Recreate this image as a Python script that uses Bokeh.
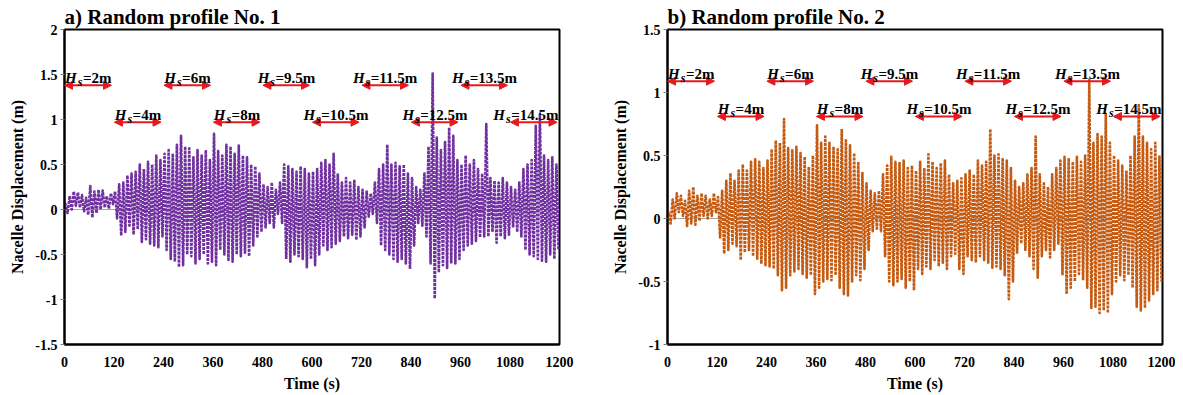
import numpy as np
from bokeh.plotting import figure
from bokeh.layouts import row
from bokeh.models import Label, Arrow, NormalHead, Span, FixedTicker, Range1d
from bokeh.embed import file_html
from bokeh.resources import INLINE

# ---------------- data ----------------
# window start times (s); each window = 10 s, peak (upper) and trough (lower) read per window
window_start = list(range(0, 1200, 10))

upper_a = [0.06, 0.15, 0.20, 0.19, 0.16, 0.13, 0.26, 0.20, 0.22, 0.21, 0.15, 0.18,
           0.20, 0.28, 0.30, 0.38, 0.40, 0.42, 0.50, 0.45, 0.53, 0.50, 0.60, 0.55,
           0.62, 0.66, 0.62, 0.72, 0.82, 0.70, 0.68, 0.58, 0.66, 0.60, 0.66, 0.55,
           0.84, 0.65, 0.60, 0.72, 0.70, 0.62, 0.71, 0.60, 0.58, 0.50, 0.48, 0.40,
           0.28, 0.25, 0.30, 0.22, 0.30, 0.50, 0.48, 0.45, 0.42, 0.48, 0.45, 0.40,
           0.42, 0.45, 0.52, 0.55, 0.50, 0.62, 0.40, 0.30, 0.35, 0.30, 0.32, 0.25,
           0.22, 0.20, 0.18, 0.30, 0.45, 0.50, 0.72, 0.50, 0.52, 0.48, 0.50, 0.40,
           0.35, 0.25, 0.22, 0.40, 0.70, 1.51, 0.80, 0.66, 0.75, 0.91, 0.82, 0.55,
           0.50, 0.60, 0.50, 0.55, 0.45, 0.40, 0.95, 0.35, 0.32, 0.30, 0.35, 0.30,
           0.25, 0.22, 0.30, 0.45, 0.50, 0.55, 0.93, 1.06, 0.60, 0.55, 0.58, 0.50]
lower_a = [-0.04, 0.00, 0.04, 0.02, -0.02, -0.06, -0.09, -0.04, 0.00, 0.02, 0.01, 0.06,
           -0.10, -0.29, -0.25, -0.18, -0.28, -0.22, -0.36, -0.33, -0.38, -0.40, -0.42, -0.30,
           -0.45, -0.55, -0.58, -0.64, -0.62, -0.50, -0.52, -0.60, -0.55, -0.50, -0.60, -0.58,
           -0.62, -0.45, -0.50, -0.56, -0.58, -0.50, -0.52, -0.48, -0.52, -0.40, -0.30, -0.25,
           -0.20, -0.15, -0.20, -0.05, -0.15, -0.55, -0.58, -0.50, -0.52, -0.55, -0.64, -0.55,
           -0.62, -0.50, -0.40, -0.45, -0.42, -0.38, -0.35, -0.30, -0.32, -0.28, -0.34, -0.30,
           -0.20, -0.08, -0.05, -0.15, -0.40, -0.45, -0.50, -0.55, -0.58, -0.55, -0.60, -0.66,
           -0.40, -0.15, -0.18, -0.30, -0.60, -0.99, -0.70, -0.62, -0.65, -0.60, -0.60, -0.55,
           -0.45, -0.40, -0.38, -0.35, -0.31, -0.30, -0.30, -0.25, -0.37, -0.30, -0.32, -0.28,
           -0.20, -0.25, -0.30, -0.45, -0.50, -0.52, -0.55, -0.57, -0.58, -0.50, -0.55, -0.45]

upper_b = [0.05, 0.15, 0.20, 0.18, 0.14, 0.22, 0.25, 0.18, 0.20, 0.18, 0.15, 0.20,
           0.17, 0.22, 0.30, 0.36, 0.30, 0.38, 0.43, 0.38, 0.45, 0.47, 0.45, 0.40,
           0.46, 0.55, 0.62, 0.60, 0.79, 0.56, 0.55, 0.57, 0.52, 0.49, 0.41, 0.50,
           0.74, 0.60, 0.65, 0.60, 0.57, 0.55, 0.71, 0.62, 0.58, 0.52, 0.45, 0.36,
           0.28, 0.22, 0.20, 0.22, 0.35, 0.42, 0.49, 0.45, 0.44, 0.46, 0.40, 0.42,
           0.38, 0.45, 0.40, 0.51, 0.45, 0.40, 0.44, 0.46, 0.35, 0.28, 0.30, 0.32,
           0.35, 0.38, 0.35, 0.46, 0.42, 0.45, 0.71, 0.50, 0.51, 0.48, 0.46, 0.40,
           0.30, 0.25, 0.28, 0.35, 0.40, 0.65, 0.35, 0.28, 0.25, 0.35, 0.40, 0.46,
           0.49, 0.48, 0.45, 0.49, 0.45, 0.50, 1.10, 0.60, 0.67, 0.65, 0.83, 0.60,
           0.50, 0.46, 0.42, 0.38, 0.50, 0.65, 0.91, 0.65, 0.60, 0.55, 0.60, 0.50]
lower_b = [-0.04, 0.00, 0.05, 0.02, -0.06, -0.04, -0.05, -0.02, 0.02, 0.00, 0.02, 0.05,
           -0.15, -0.28, -0.25, -0.20, -0.22, -0.33, -0.27, -0.25, -0.30, -0.32, -0.36, -0.37,
           -0.38, -0.40, -0.45, -0.57, -0.55, -0.45, -0.42, -0.40, -0.44, -0.47, -0.45, -0.60,
           -0.55, -0.50, -0.48, -0.49, -0.45, -0.55, -0.60, -0.61, -0.50, -0.45, -0.49, -0.40,
           -0.25, -0.10, -0.08, -0.10, -0.30, -0.50, -0.53, -0.50, -0.48, -0.55, -0.50, -0.57,
           -0.40, -0.44, -0.38, -0.40, -0.33, -0.38, -0.35, -0.40, -0.30, -0.28, -0.40, -0.44,
           -0.30, -0.33, -0.35, -0.30, -0.33, -0.35, -0.39, -0.38, -0.40, -0.45, -0.64, -0.50,
           -0.28, -0.20, -0.25, -0.30, -0.40, -0.47, -0.30, -0.25, -0.31, -0.25, -0.20, -0.45,
           -0.60, -0.55, -0.50, -0.44, -0.49, -0.55, -0.71, -0.70, -0.75, -0.73, -0.75, -0.60,
           -0.50, -0.45, -0.49, -0.45, -0.55, -0.70, -0.73, -0.71, -0.65, -0.60, -0.57, -0.50]

hs_labels = ["2m", "4m", "6m", "8m", "9.5m", "10.5m", "11.5m", "12.5m", "13.5m", "14.5m"]
segment_length = 120  # s per sea state

x_ticks = [0, 120, 240, 360, 480, 600, 720, 840, 960, 1080, 1200]
y_ticks_a = [-1.5, -1, -0.5, 0, 0.5, 1, 1.5, 2]
y_tick_labels_a = ["-1.5", "-1", "-0.5", "0", "0.5", "1", "1.5", "2"]
y_ticks_b = [-1, -0.5, 0, 0.5, 1, 1.5]
y_tick_labels_b = ["-1", "-0.5", "0", "0.5", "1", "1.5"]

# ---------------- styling ----------------
FONT = "Liberation Serif"
RED = "#E8191E"
EM = {"0": .5, "1": .5, "2": .5, "3": .5, "4": .5, "5": .5, "6": .5, "7": .5,
      "8": .5, "9": .5, ".": .25, "=": .57, "m": .833}
LBL = 15  # Hs label font size (px)
SUB = 12
FRAME_W = 495
PX_PER_S = FRAME_W / 1200.0


def text_w(s, size):
    return sum(EM.get(c, .5) for c in s) * size


def make_panel(title, upper, lower, color, yr, yticks, ylabels,
               lvl_hi, lvl_lo, b_left, b_right):
    p = figure(frame_width=FRAME_W, frame_height=315,
               x_range=Range1d(0, 1200), y_range=Range1d(*yr),
               output_backend="svg", toolbar_location=None,
               min_border_left=b_left, min_border_right=b_right,
               min_border_top=29, min_border_bottom=50,
               background_fill_color="white", border_fill_color="white")
    p.title.text = title
    p.title.align = "left"
    p.title.text_font = FONT
    p.title.text_font_style = "bold"
    p.title.text_font_size = "21px"
    p.title.text_color = "black"
    p.title.standoff = 2
    p.grid.visible = False
    p.outline_line_color = "black"
    p.outline_line_width = 2
    p.outline_line_alpha = 1

    # axes
    for ax in (p.xaxis[0], p.yaxis[0]):
        ax.axis_line_color = "black"
        ax.axis_line_width = 2
        ax.minor_tick_line_color = None
        ax.major_label_text_font = FONT
        ax.major_label_text_font_style = "bold"
        ax.major_label_text_font_size = "14px"
        ax.major_label_text_color = "black"
        ax.axis_label_text_font = FONT
        ax.axis_label_text_font_style = "bold"
        ax.axis_label_text_font_size = "16px"
        ax.axis_label_text_color = "black"
    p.xaxis.ticker = FixedTicker(ticks=x_ticks)
    p.xaxis.major_label_overrides = {t: str(t) for t in x_ticks}
    p.xaxis.major_tick_out = 0
    p.xaxis.major_tick_in = 0
    p.xaxis.major_label_standoff = 12
    p.xaxis.axis_label = "Time (s)"
    p.xaxis.axis_label_standoff = 5
    p.yaxis.ticker = FixedTicker(ticks=yticks)
    p.yaxis.major_label_overrides = {t: l for t, l in zip(yticks, ylabels)}
    p.yaxis.major_tick_out = 4
    p.yaxis.major_tick_in = 0
    p.yaxis.major_tick_line_color = "#808080"
    p.yaxis.major_label_standoff = 3
    p.yaxis.axis_label = "Nacelle Displacement (m)"
    p.yaxis.axis_label_standoff = 6

    p.add_layout(Span(location=0, dimension="width", line_color="#A6A6A6",
                      line_width=1, level="underlay"))

    # zigzag through read peaks / troughs
    ws = np.array(window_start, dtype=float)
    xs = np.empty(2 * len(ws))
    ys = np.empty(2 * len(ws))
    xs[0::2] = ws + 2.5
    xs[1::2] = ws + 7.5
    ys[0::2] = upper
    ys[1::2] = lower
    xs = np.concatenate([[0.0], xs])
    ys = np.concatenate([[0.0], ys])
    p.line(xs, ys, line_color=color, line_width=2.6, line_dash="3 1",
           line_join="round")

    # sea-state arrows and labels
    for i, lab in enumerate(hs_labels):
        s = i * segment_length + (0 if i == 0 else 1)
        e = i * segment_length + 114
        lvl = lvl_hi if i % 2 == 0 else lvl_lo
        p.add_layout(Arrow(
            start=NormalHead(size=8, fill_color=RED, line_color=RED),
            end=NormalHead(size=8, fill_color=RED, line_color=RED),
            x_start=s, y_start=lvl, x_end=e, y_end=lvl,
            line_color=RED, line_width=2))
        c = (s + e) / 2
        rest = "=" + lab
        wH = 0.778 * LBL + 1.5
        wS = 0.389 * SUB + 0.5
        wR = text_w(rest, LBL)
        total = wH + wS + wR
        shift = 0.0
        right_px = c * PX_PER_S + total / 2
        if right_px > FRAME_W - 1:
            shift = FRAME_W - 1 - right_px
        A = -total / 2 + wH + wS + shift
        common = dict(x=c, y=lvl, text_font=FONT, text_color="black",
                      text_baseline="alphabetic")
        p.add_layout(Label(text="H", text_font_style="bold italic",
                           text_font_size=f"{LBL}px", text_align="right",
                           x_offset=A - wS - 1.0, y_offset=7, **common))
        p.add_layout(Label(text="s", text_font_style="bold italic",
                           text_font_size=f"{SUB}px", text_align="right",
                           x_offset=A - 0.5, y_offset=3, **common))
        p.add_layout(Label(text=rest, text_font_style="bold",
                           text_font_size=f"{LBL}px", text_align="left",
                           x_offset=A, y_offset=7, **common))
    return p


pa = make_panel("a) Random profile No. 1", upper_a, lower_a, "#7030A0",
                (-1.5, 2), y_ticks_a, y_tick_labels_a, 1.38, 0.97, 64, 41)
pb = make_panel("b) Random profile No. 2", upper_b, lower_b, "#C55A11",
                (-1, 1.5), y_ticks_b, y_tick_labels_b, 1.09, 0.81, 67, 13)

layout = row(pa, pb)
open("out.html", "w").write(file_html(layout, INLINE))
